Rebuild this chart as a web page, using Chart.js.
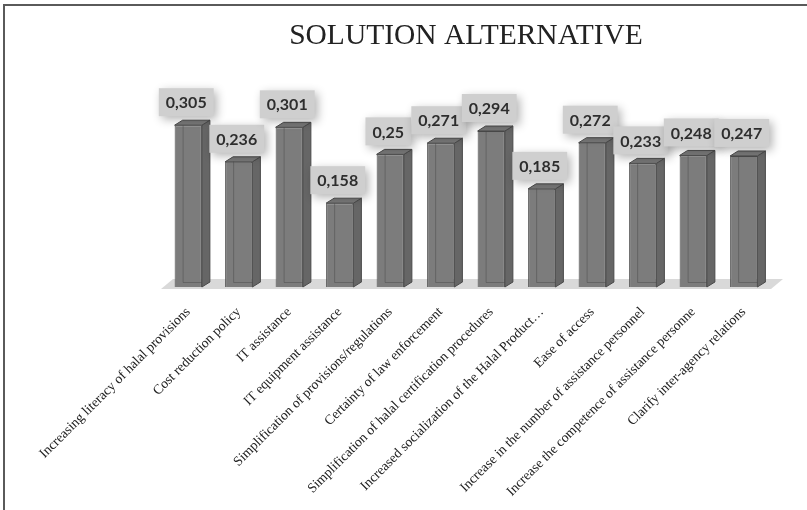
<!DOCTYPE html>
<html>
<head>
<meta charset="utf-8">
<script src="https://cdn.jsdelivr.net/npm/chart.js@4"></script>
<style>
  html, body { margin: 0; padding: 0; background: #fff; }
  #wrap { position: relative; width: 807px; height: 510px; }
  #frame { position: absolute; left: 3px; top: 4px; right: 0; bottom: 0;
           border-left: 2px solid #5a5a5a; border-top: 2px solid #5a5a5a; pointer-events: none; }
</style>
</head>
<body>
<div id="wrap">
  <canvas id="barChart" width="807" height="510"></canvas>
  <div id="frame"></div>
</div>
<script>
const categories = [
    'Increasing literacy of halal provisions',
    'Cost reduction policy',
    'IT assistance',
    'IT equipment assistance',
    'Simplification of provisions/regulations',
    'Certainty of law enforcement',
    'Simplification of halal certification procedures',
    'Increased socialization of the Halal Product\u2026',
    'Ease of access',
    'Increase in the number of assistance personnel',
    'Increase the competence of assistance personne',
    'Clarify inter-agency relations'
];
const scores = [0.305, 0.236, 0.301, 0.158, 0.25, 0.271, 0.294, 0.185, 0.272, 0.233, 0.248, 0.247];

const DX = 8, DY = 5; // depth of the fake 3d boxes

// floor under the bars
const floorPlugin = {
    id: 'floor',
    beforeDatasetsDraw(chart) {
        const ctx = chart.ctx;
        const a = chart.chartArea;
        const y0 = chart.scales.y.getPixelForValue(0);
        ctx.save();
        ctx.fillStyle = '#d9d9d9';
        ctx.beginPath();
        ctx.moveTo(a.left - 2, y0 + 2);
        ctx.lineTo(a.right + 2, y0 + 2);
        ctx.lineTo(a.right + 14, y0 - 8);
        ctx.lineTo(a.left + 10, y0 - 8);
        ctx.closePath();
        ctx.fill();
        ctx.restore();
    }
};

// side + top faces and the value boxes
const boxPlugin = {
    id: 'boxes',
    afterDatasetsDraw(chart) {
        const ctx = chart.ctx;
        const meta = chart.getDatasetMeta(0);
        ctx.save();
        meta.data.forEach((bar, i) => {
            const left = bar.x - bar.width / 2;
            const right = bar.x + bar.width / 2;
            const top = bar.y;
            const bottom = bar.base;

            // hidden back edges seen through the front
            ctx.strokeStyle = 'rgba(70,70,70,0.45)';
            ctx.lineWidth = 1;
            ctx.beginPath();
            ctx.moveTo(left + DX + 0.5, top - DY);
            ctx.lineTo(left + DX + 0.5, bottom - DY + 0.5);
            ctx.lineTo(right + DX, bottom - DY + 0.5);
            ctx.stroke();

            ctx.strokeStyle = '#4a4a4a';
            // side
            ctx.fillStyle = '#666666';
            ctx.beginPath();
            ctx.moveTo(right, top);
            ctx.lineTo(right + DX, top - DY);
            ctx.lineTo(right + DX, bottom - DY);
            ctx.lineTo(right, bottom);
            ctx.closePath();
            ctx.fill();
            ctx.stroke();
            // top
            ctx.fillStyle = '#787878';
            ctx.beginPath();
            ctx.moveTo(left, top);
            ctx.lineTo(left + DX, top - DY);
            ctx.lineTo(right + DX, top - DY);
            ctx.lineTo(right, top);
            ctx.closePath();
            ctx.fill();
            ctx.stroke();

            // value label box
            const txt = String(scores[i]).replace('.', ',');
            ctx.font = 'bold 16px Lato';
            const w = ctx.measureText(txt).width + 14;
            const h = 28;
            const cx = bar.x - 2;
            const by = top - DY - 4;
            ctx.save();
            ctx.shadowColor = 'rgba(0,0,0,0.3)';
            ctx.shadowBlur = 10;
            ctx.shadowOffsetX = 3;
            ctx.shadowOffsetY = 3;
            ctx.fillStyle = '#cfcfcf';
            ctx.fillRect(cx - w / 2, by - h, w, h);
            ctx.restore();
            ctx.fillStyle = '#2e2e2e';
            ctx.textAlign = 'center';
            ctx.textBaseline = 'middle';
            ctx.fillText(txt, cx, by - h / 2 + 1);
        });
        ctx.restore();
    }
};

const ctxBar = document.getElementById('barChart').getContext('2d');
const barChart = new Chart(ctxBar, {
    type: 'bar',
    data: {
        labels: categories,
        datasets: [{
            label: '',
            data: scores,
            backgroundColor: '#7c7c7c',
            borderColor: '#4a4a4a',
            borderWidth: 1,
            barPercentage: 0.54,
            categoryPercentage: 1
        }]
    },
    options: {
        responsive: false,
        animation: false,
        layout: {
            padding: { left: 163, right: 38, top: 0, bottom: 0 }
        },
        plugins: {
            legend: { display: false },
            tooltip: { enabled: false },
            title: {
                display: true,
                text: 'SOLUTION ALTERNATIVE',
                color: '#222',
                font: { family: 'Liberation Serif', size: 29.5, weight: 'normal' },
                padding: { top: 19, bottom: 31 }
            }
        },
        scales: {
            x: {
                grid: { display: false, drawTicks: false },
                border: { display: false },
                ticks: {
                    autoSkip: false,
                    minRotation: 45,
                    maxRotation: 45,
                    padding: 17,
                    color: '#222',
                    font: { family: 'Liberation Serif', size: 13.7 }
                },
                afterFit(scale) { scale.height = 223; }
            },
            y: {
                display: false,
                min: 0,
                max: 0.38
            }
        }
    },
    plugins: [floorPlugin, boxPlugin]
});
</script>
</body>
</html>
